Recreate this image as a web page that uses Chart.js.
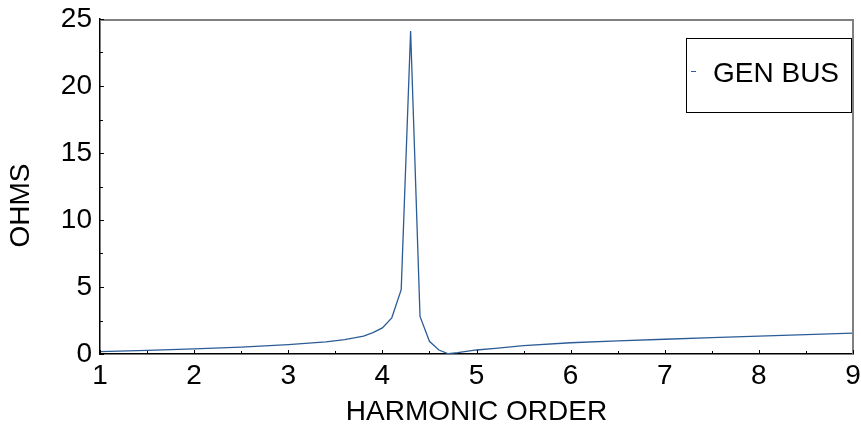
<!DOCTYPE html>
<html>
<head>
<meta charset="utf-8">
<script src="https://cdn.jsdelivr.net/npm/chart.js@4/dist/chart.umd.min.js"></script>
<style>
  html, body { margin: 0; padding: 0; background: #fff; }
  canvas { display: block; }
</style>
</head>
<body>
<canvas id="chart-impedancia" width="861" height="433"></canvas>
<script>
var harmonicos = [1.0, 1.5, 2.0, 2.5, 3.0, 3.4, 3.6, 3.7, 3.8, 3.9, 4.0, 4.1, 4.2, 4.3, 4.4, 4.5, 4.6, 4.7, 4.8, 5.0, 5.2, 5.5, 6.0, 6.5, 7.0, 7.5, 8.0, 8.5, 9.0];
var ohms = [0.17, 0.27, 0.38, 0.52, 0.7, 0.9, 1.08, 1.2, 1.34, 1.6, 1.95, 2.7, 4.8, 24.1, 2.8, 0.95, 0.3, 0.02, 0.1, 0.3, 0.42, 0.62, 0.84, 0.98, 1.1, 1.22, 1.33, 1.44, 1.56];
var serieNombre = 'GEN BUS';
var ejeX = 'HARMONIC ORDER';
var ejeY = 'OHMS';

var FUENTE = '"Liberation Sans", Arial, sans-serif';
var TAM = 28;
var AZUL = 'rgb(44, 92, 150)';

var marcoPlugin = {
    id: 'marco',
    afterDraw: function (chart) {
        var ctx = chart.ctx;
        var area = chart.chartArea;
        var sx = chart.scales.x;
        var sy = chart.scales.y;
        var v, px, py;

        ctx.save();
        // top and right border, gray
        ctx.strokeStyle = '#808080';
        ctx.lineWidth = 2;
        ctx.beginPath();
        ctx.moveTo(area.left, area.top + 1);
        ctx.lineTo(area.right, area.top + 1);
        ctx.lineTo(area.right, area.bottom);
        ctx.stroke();

        // inner tick marks
        ctx.strokeStyle = '#000';
        ctx.lineWidth = 1;
        ctx.beginPath();
        for (v = sx.min; v <= sx.max + 0.001; v += 0.5) {
            px = Math.round(sx.getPixelForValue(v)) + 0.5;
            ctx.moveTo(px, area.bottom);
            ctx.lineTo(px, area.bottom - (v % 1 === 0 ? 4 : 3));
        }
        for (v = sy.min; v <= sy.max + 0.001; v += 2.5) {
            py = Math.round(sy.getPixelForValue(v)) + 0.5;
            ctx.moveTo(area.left, py);
            ctx.lineTo(area.left + (v % 5 === 0 ? 4 : 3), py);
        }
        ctx.stroke();

        // y axis title, a bit below the middle like the original
        ctx.fillStyle = '#000';
        ctx.font = TAM + 'px ' + FUENTE;
        ctx.translate(21, (area.top + area.bottom) / 2 + 19);
        ctx.rotate(-Math.PI / 2);
        ctx.textAlign = 'center';
        ctx.textBaseline = 'middle';
        ctx.fillText(ejeY, 0, 0);
        ctx.setTransform(1, 0, 0, 1, 0, 0);

        // legend box
        var ds = chart.data.datasets[0];
        var bx = area.right - 167, by = area.top + 19, bw = 165, bh = 74;
        ctx.fillStyle = '#fff';
        ctx.fillRect(bx, by, bw, bh);
        ctx.strokeStyle = '#000';
        ctx.lineWidth = 1;
        ctx.strokeRect(bx + 0.5, by + 0.5, bw, bh);
        ctx.strokeStyle = ds.borderColor;
        ctx.beginPath();
        ctx.moveTo(bx + 5, by + 33.5);
        ctx.lineTo(bx + 10, by + 33.5);
        ctx.stroke();
        ctx.fillStyle = '#000';
        ctx.textBaseline = 'middle';
        ctx.textAlign = 'left';
        ctx.fillText(ds.label, bx + 27, by + 36);
        ctx.restore();
    }
};

var puntos = harmonicos.map(function (h, i) {
    return { x: h, y: ohms[i] };
});

var chart = new Chart(document.getElementById('chart-impedancia').getContext('2d'), {
    type: 'line',
    data: {
        datasets: [{
            label: serieNombre,
            data: puntos,
            borderColor: AZUL,
            backgroundColor: AZUL,
            borderWidth: 1.3,
            pointRadius: 0,
            tension: 0,
            fill: false
        }]
    },
    options: {
        responsive: false,
        animation: false,
        layout: { padding: { top: 19, right: 8, left: 0, bottom: 0 } },
        plugins: {
            legend: { display: false },
            tooltip: { enabled: false }
        },
        scales: {
            x: {
                type: 'linear',
                min: 1,
                max: 9,
                afterFit: function (scale) {
                    scale.height = 79;
                    scale.paddingLeft = 0;
                    scale.paddingRight = 0;
                },
                grid: { display: false, drawTicks: false },
                border: { display: true, color: '#000', width: 1.5 },
                ticks: {
                    stepSize: 1,
                    padding: 5,
                    color: '#000',
                    font: { family: FUENTE, size: TAM }
                },
                title: {
                    display: true,
                    text: ejeX,
                    color: '#000',
                    font: { family: FUENTE, size: TAM },
                    padding: { top: 0, bottom: 4 }
                }
            },
            y: {
                min: 0,
                max: 25,
                afterFit: function (scale) {
                    scale.width = 100;
                    scale.paddingTop = 0;
                    scale.paddingBottom = 0;
                },
                grid: { display: false, drawTicks: false },
                border: { display: true, color: '#000', width: 1.5 },
                ticks: {
                    stepSize: 5,
                    padding: 8,
                    color: '#000',
                    font: { family: FUENTE, size: TAM }
                },
                title: { display: false }
            }
        }
    },
    plugins: [marcoPlugin]
});
</script>
</body>
</html>
